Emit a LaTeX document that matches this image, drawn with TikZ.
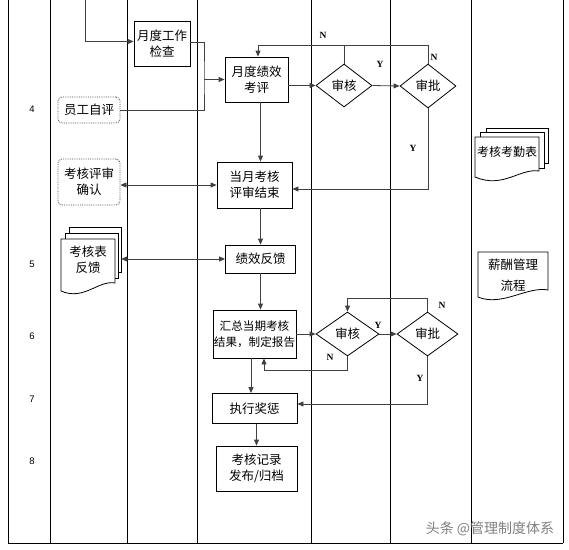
\documentclass[tikz,border=0pt]{standalone}
\usepackage{fontspec}
\setmainfont{Liberation Serif}
\newfontfamily\cjk{Noto Sans CJK SC}
\newfontfamily\numf{Liberation Sans}
\usetikzlibrary{shapes.geometric,arrows.meta}
\begin{document}
\begin{tikzpicture}[x=1pt,y=-1pt,
 lane/.style={line width=0.9pt},
 box/.style={draw, line width=0.8pt, align=center, inner sep=0pt, font=\cjk\fontsize{12.5}{16}\selectfont},
 dbox/.style={box, draw=black!70, densely dotted, rounded corners=4pt},
 dia/.style={draw, diamond, line width=0.8pt, inner sep=0pt, font=\cjk\fontsize{12.5}{16}\selectfont},
 lab/.style={font=\cjk\fontsize{12.5}{16}\selectfont, align=center, inner sep=0pt},
 yn/.style={font=\bfseries\fontsize{9.5}{10}\selectfont, inner sep=0pt},
 num/.style={font=\numf\fontsize{9.5}{10}\selectfont, inner sep=0pt},
 con/.style={line width=0.8pt, draw=black!75},
 arr/.style={con, -{Triangle[length=6pt,width=5pt]}},
 darr/.style={con, {Triangle[length=6pt,width=5pt]}-{Triangle[length=6pt,width=5pt]}},
 doc/.style={draw, line width=0.8pt, fill=white},
]
\useasboundingbox (0,0) rectangle (569,549);
% swimlanes
\foreach \x in {8,50,127,197,311,390,471,563} \draw[lane] (\x,0) -- (\x,543);
\draw[lane] (8,543) -- (563,543);
% row numbers
\node[num] (r4) at (32,109) {4};
\node[num] (r5) at (32,264) {5};
\node[num] (r6) at (32,336) {6};
\node[num] (r7) at (32,399) {7};
\node[num] (r8) at (32,461) {8};
% nodes
\node[box, minimum width=56pt, minimum height=45pt] (chk) at (162,43.5) {月度工作\\检查};
\node[dbox, minimum width=62pt, minimum height=26pt] (self) at (89,110) {员工自评};
\node[box, minimum width=63pt, minimum height=45pt] (mp) at (256.5,79.5) {月度绩效\\考评};
\node[dia, minimum width=56pt, minimum height=43pt] (d1) at (344,85.5) {审核};
\node[dia, minimum width=56pt, minimum height=44pt] (a1) at (428,86) {审批};
\node[box, minimum width=75pt, minimum height=46pt] (end) at (254.5,185) {当月考核\\评审结束};
\node[dbox, minimum width=62pt, minimum height=46pt] (conf) at (89,182) {考核评审\\确认};
\node[box, minimum width=70pt, minimum height=28pt] (pf) at (260.5,259) {绩效反馈};
\node[box, minimum width=83pt, minimum height=48pt, font=\cjk\fontsize{11.6}{16}\selectfont] (sum) at (254.5,334) {汇总当期考核\\结果，制定报告};
\node[dia, minimum width=63pt, minimum height=44pt] (d2) at (347.5,334) {审核};
\node[dia, minimum width=61pt, minimum height=44pt] (a2) at (427.5,334) {审批};
\node[box, minimum width=85pt, minimum height=30pt] (exe) at (254.5,408.5) {执行奖惩};
\node[box, minimum width=81pt, minimum height=45pt] (rec) at (256.5,468.5) {考核记录\\发布/归档};
% document stack: 考核表反馈
\draw[doc] (69,227) rectangle (121,272);
\draw[doc] (65,233) rectangle (118,278);
\draw[doc] (61,239) -- (115,239) -- (115,283) .. controls (98,280) and (84,301) .. (61,291) -- cycle;
\node[lab] (fbt) at (88,260) {考核表\\反馈};
\node[inner sep=0pt, minimum width=60pt, minimum height=68pt] (fb) at (91,261) {};
% document stack: 考核考勤表
\draw[doc] (486,128) rectangle (548,163);
\draw[doc] (480,132) rectangle (544,168);
\draw[doc] (475,137) -- (539,137) -- (539,171) .. controls (520,168) and (503,189) .. (475,177) -- cycle;
\node[lab, font=\cjk\fontsize{12}{16}\selectfont] (att) at (507,152) {考核考勤表};
% document: 薪酬管理流程
\draw[doc] (478,252) -- (548,252) -- (548,290) .. controls (527,286) and (502,307) .. (478,297) -- cycle;
\node[lab, font=\cjk\fontsize{12.5}{21}\selectfont] (pay) at (513,275) {薪酬管理\\流程};
% connectors
\coordinate (in0) at (85,0);
\draw[arr] (in0) |- ([yshift=2pt]chk.west);
\coordinate (j) at (204,79.5);
\draw[con] ([yshift=1pt]chk.east) -| (j) |- (self.east);
\draw[arr] (j) -- (mp.west);
\draw[arr] (mp.east |- d1.west) -- (d1.west);
\draw[arr] (d1.east) -- (a1.west);
\coordinate (top1) at (428,45);
\draw[arr] (a1.north) -- (top1) -| ([xshift=1.5pt]mp.north);
\draw[con] (d1.north) -- (d1.north |- top1);
\draw[arr] (a1.south) |- ([yshift=-4pt]end.east);
\draw[arr] ([xshift=4pt]mp.south) -- ([xshift=4pt]mp.south |- end.north);
\draw[darr] (conf.east |- end.west) -- (end.west);
\draw[arr] (pf.north |- end.south) -- (pf.north);
\draw[darr] (fb.east |- pf.west) -- (pf.west);
\draw[arr] (pf.south) -- (pf.south |- sum.north);
\draw[arr] (sum.east) -- (d2.west);
\draw[arr] (d2.east) -- (a2.west);
\coordinate (top2) at (427.5,298);
\draw[arr] (a2.north) -- (top2) -| (d2.north);
\coordinate (bot2) at (347.5,370);
\draw[arr] (d2.south) -- (bot2) -| ([xshift=9.5pt]sum.south);
\draw[arr] ([xshift=-3.5pt]sum.south) -- ([xshift=-3.5pt]sum.south |- exe.north);
\draw[arr] (a2.south) |- ([yshift=4.5pt]exe.east);
\draw[arr] (exe.south -| rec.north) -- (rec.north);
% Y / N labels
\node[yn] (n1) at (323,35) {N};
\node[yn] (n2) at (434,57) {N};
\node[yn] (y1) at (380,64) {Y};
\node[yn] (y2) at (413,148) {Y};
\node[yn] (y3) at (378,325) {Y};
\node[yn] (n3) at (442,305) {N};
\node[yn] (n4) at (330,357) {N};
\node[yn] (y4) at (420,378) {Y};
% watermark
\node[font=\cjk\fontsize{14}{16}\selectfont, text=black!50, inner sep=0pt] (wm) at (490,529) {头条 @管理制度体系};
\end{tikzpicture}
\end{document}
